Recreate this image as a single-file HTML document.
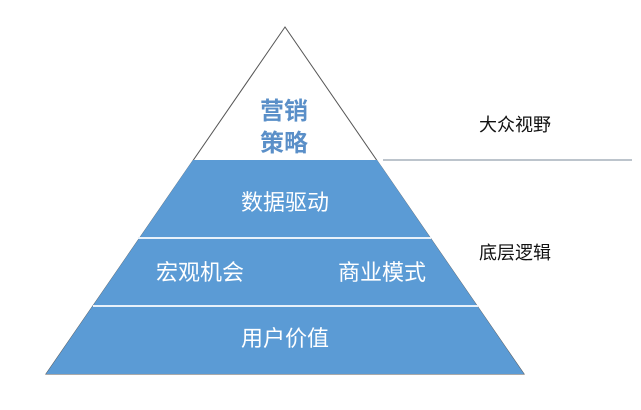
<!DOCTYPE html>
<html><head><meta charset="utf-8"><style>
body{margin:0;background:#fff;width:641px;height:405px;overflow:hidden}
svg text{font-family:"Liberation Sans","Noto Sans CJK SC",sans-serif}
</style></head><body>
<svg width="641" height="405" viewBox="0 0 641 405">
<polygon points="285,27 46,374 524,374" fill="#fff" stroke="#555" stroke-width="1"/>
<polygon points="193,160 377,160 524,374 46,374" fill="#5b9bd5"/>
<line x1="383" y1="160" x2="632" y2="160" stroke="#7a8a99" stroke-width="1"/>
<line x1="138" y1="238" x2="431" y2="238" stroke="#e8f1fa" stroke-width="2"/>
<line x1="93" y1="306" x2="478" y2="306" stroke="#e8f1fa" stroke-width="2"/>
<g font-weight="bold" fill="#5a8fc8" font-size="24" text-anchor="middle">
<text x="284" y="119">营销</text><text x="284" y="151">策略</text></g>
<g fill="#fff" font-size="22" text-anchor="middle">
<text x="285" y="210">数据驱动</text>
<text x="200" y="280">宏观机会</text>
<text x="382" y="280">商业模式</text>
<text x="285" y="346">用户价值</text></g>
<g fill="#111" font-size="18" text-anchor="middle">
<text x="515" y="131">大众视野</text>
<text x="515" y="259">底层逻辑</text></g>
</svg>
</body></html>
